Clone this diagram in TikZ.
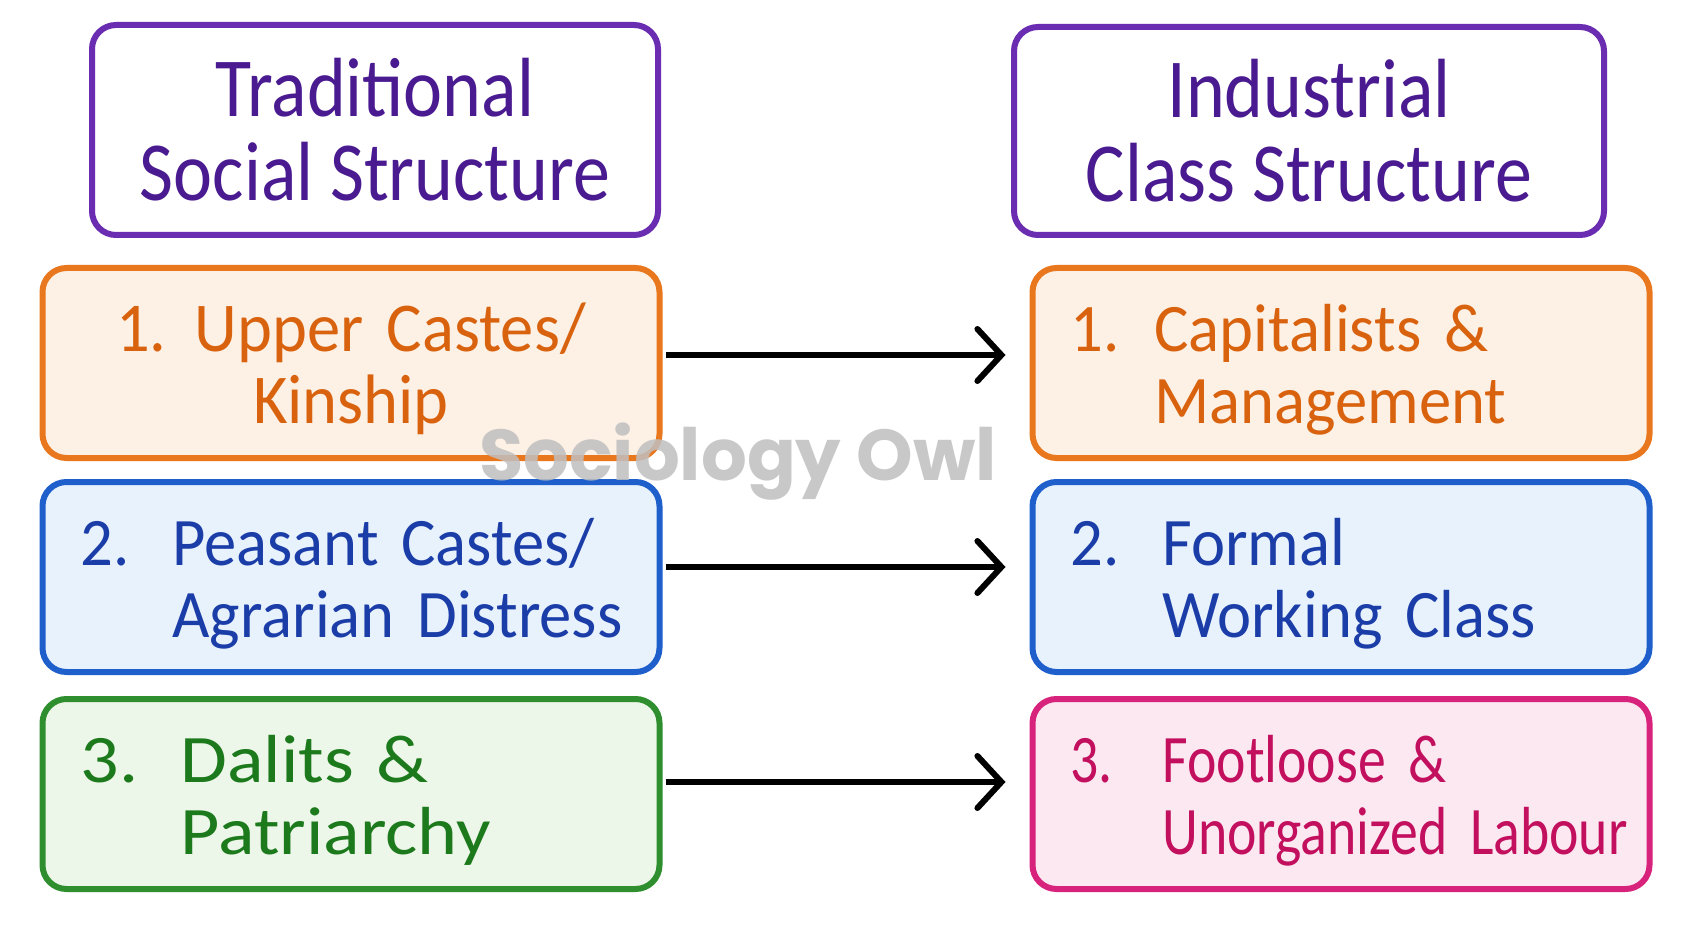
\documentclass[tikz,border=0pt]{standalone}
\usepackage{fontspec}
\setmainfont{Carlito}[FakeStretch=0.95, WordSpace=0.8]
\newfontfamily\headfont{Carlito}[FakeStretch=0.88]
\newfontfamily\widefont{Carlito}[FakeStretch=1.12, WordSpace=0.8]
\newfontfamily\narrowfont{Carlito}[FakeStretch=0.82, WordSpace=0.75]
\newfontfamily\wmfont{Poppins}
\usetikzlibrary{arrows.meta}

\definecolor{purpline}{HTML}{6A2CB0}
\definecolor{purptext}{HTML}{4A1A90}
\definecolor{orline}{HTML}{E8771E}
\definecolor{orfill}{HTML}{FDF0E4}
\definecolor{ortext}{HTML}{D9620E}
\definecolor{blline}{HTML}{1E5FCC}
\definecolor{blfill}{HTML}{E8F2FD}
\definecolor{bltext}{HTML}{1B3DA8}
\definecolor{grline}{HTML}{2F8F2F}
\definecolor{grfill}{HTML}{EDF7E9}
\definecolor{grtext}{HTML}{1C7A1C}
\definecolor{pkline}{HTML}{D8237C}
\definecolor{pkfill}{HTML}{FCE8F1}
\definecolor{pktext}{HTML}{C2105F}

\newcommand{\entry}[4][46pt]{\noindent\raisebox{-5pt}[\height][\depth]{\begin{tabular}{@{}l@{}l@{}}\makebox[#1][l]{#2}&#3\\&#4\end{tabular}}}
\newcommand{\centry}[2]{\raisebox{-5pt}[\height][\depth]{\begin{tabular}{@{}c@{}}#1\\#2\end{tabular}}}

\tikzstyle{headbox}=[draw=purpline, line width=3pt, rounded corners=12pt, fill=white, text=purptext, align=center, font=\headfont\fontsize{42}{42}\selectfont]
\tikzstyle{itembox}=[line width=3pt, rounded corners=12pt, minimum width=308.5pt, minimum height=95pt, inner xsep=19pt, text width=270.5pt, align=left, font=\fontsize{34}{36}\selectfont]
\tikzstyle{orangebox}=[itembox, draw=orline, fill=orfill, text=ortext]
\tikzstyle{bluebox}=[itembox, draw=blline, fill=blfill, text=bltext]
\tikzstyle{greenbox}=[itembox, draw=grline, fill=grfill, text=grtext, font=\widefont\fontsize{34}{36}\selectfont]
\tikzstyle{pinkbox}=[itembox, draw=pkline, fill=pkfill, text=pktext, font=\narrowfont\fontsize{34}{36}\selectfont]
\tikzstyle{flow}=[line width=3pt, -{Straight Barb[length=12pt, width=26pt, line cap=round]}, shorten <=1.5pt, shorten >=12pt]

\begin{document}
\begin{tikzpicture}[x=0.5pt, y=-0.5pt]
\useasboundingbox[fill=white] (0,0) rectangle (1691,930);

\node[headbox, minimum width=283pt, minimum height=105pt] (trad) at (375,130) {Traditional\\Social Structure};
\node[headbox, minimum width=295pt, minimum height=104pt] (indus) at (1309,131) {Industrial\\Class Structure};

\node[orangebox, align=center, font=\fontsize{35}{36}\selectfont] (upper) at (351,363) {\centry{1.\hspace{14pt}Upper Castes/}{Kinship}};
\node[bluebox] (peasant) at (351,577) {\entry{2.}{Peasant Castes/}{Agrarian Distress}};
\node[greenbox] (dalit) at (351,794) {\entry[50pt]{3.}{Dalits \&}{Patriarchy}};

\node[orangebox] (capital) at (1341,363) {\entry[42pt]{1.}{Capitalists \&}{Management}};
\node[bluebox] (formal) at (1341,577) {\entry{2.}{Formal}{Working Class}};
\node[pinkbox] (footloose) at (1341,794) {\entry{3.}{Footloose \&}{Unorganized Labour}};

\draw[flow] ([yshift=4pt]upper.east) -- ([yshift=4pt]capital.west);
\draw[flow] ([yshift=5pt]peasant.east) -- ([yshift=5pt]formal.west);
\draw[flow] ([yshift=6pt]dalit.east) -- ([yshift=6pt]footloose.west);

\node[font=\wmfont\bfseries\fontsize{36}{36}\selectfont, text=black!25, opacity=0.85] (mark) at (738,462) {Sociology Owl};
\end{tikzpicture}
\end{document}
